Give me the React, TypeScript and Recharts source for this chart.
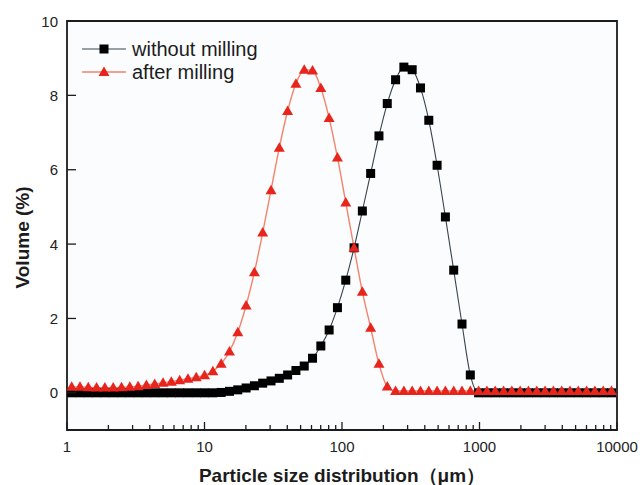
import React from 'react';
import { ComposedChart, Line, XAxis, YAxis, ReferenceArea, Legend, Label } from 'recharts';

// Particle size classes (µm), geometric bins
const sizes = [
  1.081, 1.243, 1.428, 1.641, 1.886, 2.168, 2.491, 2.863, 3.29, 3.781,
  4.345, 4.994, 5.739, 6.596, 7.58, 8.71, 10.01, 11.5, 13.22, 15.19,
  17.46, 20.07, 23.06, 26.5, 30.46, 34.99, 40.22, 46.22, 53.12, 61.04,
  70.15, 80.62, 92.65, 106.5, 122.4, 140.6, 161.6, 185.7, 213.4, 245.3,
  281.8, 323.9, 372.2, 427.8, 491.6, 564.9, 649.2, 746.1, 857.5, 985.4,
  1132, 1301, 1496, 1719, 1975, 2270, 2609, 2998, 3445, 3959,
  4550, 5229, 6009, 6906, 7936, 9120,
];

// Volume (%) per size class, raw powder
const withoutMilling = [
  0, 0, 0, 0, 0, 0, 0, 0, 0, 0,
  0, 0, 0, 0, 0, 0, 0, 0, 0.01, 0.04,
  0.08, 0.13, 0.19, 0.26, 0.32, 0.39, 0.48, 0.6, 0.72, 0.93,
  1.26, 1.69, 2.29, 3.03, 3.9, 4.89, 5.9, 6.91, 7.78, 8.42,
  8.76, 8.69, 8.2, 7.33, 6.12, 4.73, 3.3, 1.85, 0.48, 0,
  0, 0, 0, 0, 0, 0, 0, 0, 0, 0,
  0, 0, 0, 0, 0, 0,
];

// Volume (%) per size class, milled powder
const afterMilling = [
  0.16, 0.16, 0.15, 0.14, 0.14, 0.14, 0.15, 0.16, 0.18, 0.21,
  0.24, 0.27, 0.3, 0.34, 0.38, 0.42, 0.47, 0.58, 0.78, 1.11,
  1.63, 2.35, 3.24, 4.31, 5.45, 6.59, 7.58, 8.31, 8.69, 8.67,
  8.2, 7.39, 6.33, 5.12, 3.9, 2.72, 1.75, 0.78, 0.17, 0.05,
  0.05, 0.05, 0.05, 0.05, 0.05, 0.05, 0.05, 0.05, 0.05, 0.05,
  0.05, 0.05, 0.05, 0.05, 0.05, 0.05, 0.05, 0.05, 0.05, 0.05,
  0.05, 0.05, 0.05, 0.05, 0.05, 0.05,
];

const xMajorTicks = [1, 10, 100, 1000, 10000];
const xMinorTicks = [
  2, 3, 4, 5, 6, 7, 8, 9,
  20, 30, 40, 50, 60, 70, 80, 90,
  200, 300, 400, 500, 600, 700, 800, 900,
  2000, 3000, 4000, 5000, 6000, 7000, 8000, 9000,
];
const yTicks = [0, 2, 4, 6, 8, 10];

const seriesNames = ['without milling', 'after milling'];

const rows = sizes.map((size, i) => ({
  size,
  without: withoutMilling[i],
  after: afterMilling[i],
}));

const FONT = '"Liberation Sans", Arial, Helvetica, sans-serif';
const INK = '#1c1c1c';
const BLACK_LINE = '#34444f';
const RED_LINE = '#f3836d';
const RED_MARK = '#e8251c';

const allXTicks = [...xMajorTicks, ...xMinorTicks].sort((a, b) => a - b);

const XTick = (props: any) => {
  const { x, y, payload } = props;
  const major = xMajorTicks.includes(payload.value);
  const len = major ? 8 : 5;
  return (
    <g>
      <line x1={x} y1={y} x2={x} y2={y - len} stroke={INK} strokeWidth={1.3} />
      {major && (
        <text x={x} y={y + 22} textAnchor="middle" fontFamily={FONT} fontSize={15} fill="#222">
          {payload.value}
        </text>
      )}
    </g>
  );
};

const YTick = (props: any) => {
  const { x, y, payload } = props;
  return (
    <g>
      <line x1={x} y1={y} x2={x + 9} y2={y} stroke={INK} strokeWidth={1.3} />
      <text x={x - 9} y={y + 5.5} textAnchor="end" fontFamily={FONT} fontSize={15} fill="#222">
        {payload.value}
      </text>
    </g>
  );
};

const SquareDot = (p: any) => {
  if (p.cx == null || p.cy == null) return <g key={`s${p.index}`} />;
  return <rect key={`s${p.index}`} x={p.cx - 4.5} y={p.cy - 4.5} width={9} height={9} fill="#000" />;
};

const TriangleDot = (p: any) => {
  if (p.cx == null || p.cy == null) return <g key={`t${p.index}`} />;
  const { cx, cy } = p;
  return (
    <polygon
      key={`t${p.index}`}
      points={`${cx},${cy - 5.5} ${cx + 5.5},${cy + 4} ${cx - 5.5},${cy + 4}`}
      fill={RED_MARK}
    />
  );
};

const LegendBox = () => (
  <svg width={200} height={50} style={{ display: 'block' }}>
    <line x1={7} y1={14} x2={51} y2={14} stroke={BLACK_LINE} strokeWidth={1.2} />
    <rect x={24.5} y={9.5} width={9} height={9} fill="#000" />
    <text x={57} y={21} fontFamily={FONT} fontSize={20} fill={INK}>{seriesNames[0]}</text>
    <line x1={7} y1={37} x2={51} y2={37} stroke={RED_LINE} strokeWidth={1.4} />
    <polygon points="29,31.5 34.5,41 23.5,41" fill={RED_MARK} />
    <text x={57} y={44} fontFamily={FONT} fontSize={20} fill={INK}>{seriesNames[1]}</text>
  </svg>
);

const XTitle = (props: any) => {
  const vb = props.viewBox || {};
  return (
    <text
      x={vb.x + vb.width / 2}
      y={vb.y + 52}
      textAnchor="middle"
      fontFamily={FONT}
      fontWeight="bold"
      fontSize={19}
      fill={INK}
    >
      Particle size distribution（μm）
    </text>
  );
};

const YTitle = (props: any) => {
  const vb = props.viewBox || {};
  const cx = vb.x + vb.width - 44.5;
  const cy = vb.y + vb.height / 2 + 12;
  return (
    <text
      x={cx}
      y={cy}
      transform={`rotate(-90 ${cx} ${cy})`}
      textAnchor="middle"
      dominantBaseline="central"
      fontFamily={FONT}
      fontWeight="bold"
      fontSize={19}
      fill={INK}
    >
      Volume (%)
    </text>
  );
};

export default function App() {
  return (
    <div style={{ position: 'absolute', left: 0, top: 0, width: 640, height: 485, background: '#fff' }}>
      <ComposedChart
        width={640}
        height={485}
        data={rows}
        margin={{ top: 21, right: 23, bottom: 0, left: 0 }}
      >
        <ReferenceArea
          x1={1}
          x2={10000}
          y1={-1}
          y2={10}
          fill="#fbfcfe"
          fillOpacity={1}
          stroke={INK}
          strokeWidth={1.8}
          ifOverflow="visible"
        />
        <XAxis
          dataKey="size"
          type="number"
          scale="log"
          domain={[1, 10000]}
          allowDataOverflow
          ticks={allXTicks}
          interval={0}
          height={55}
          tickSize={0}
          tickMargin={0}
          tickLine={false}
          axisLine={false}
          tick={<XTick />}
        >
          <Label content={<XTitle />} />
        </XAxis>
        <YAxis
          type="number"
          domain={[-1, 10]}
          allowDataOverflow
          ticks={yTicks}
          interval={0}
          width={67}
          tickSize={0}
          tickMargin={0}
          tickLine={false}
          axisLine={false}
          tick={<YTick />}
        >
          <Label content={<YTitle />} />
        </YAxis>
        <Legend
          content={<LegendBox />}
          layout="vertical"
          align="center"
          verticalAlign="middle"
          wrapperStyle={{ position: 'absolute', left: 75, top: 35, width: 200, height: 50 }}
        />
        <Line
          name={seriesNames[0]}
          dataKey="without"
          type="monotone"
          stroke={BLACK_LINE}
          strokeWidth={1.1}
          dot={SquareDot}
          activeDot={false}
          isAnimationActive={false}
        />
        <Line
          name={seriesNames[1]}
          dataKey="after"
          type="monotone"
          stroke={RED_LINE}
          strokeWidth={1.4}
          dot={TriangleDot}
          activeDot={false}
          isAnimationActive={false}
        />
      </ComposedChart>
    </div>
  );
}
